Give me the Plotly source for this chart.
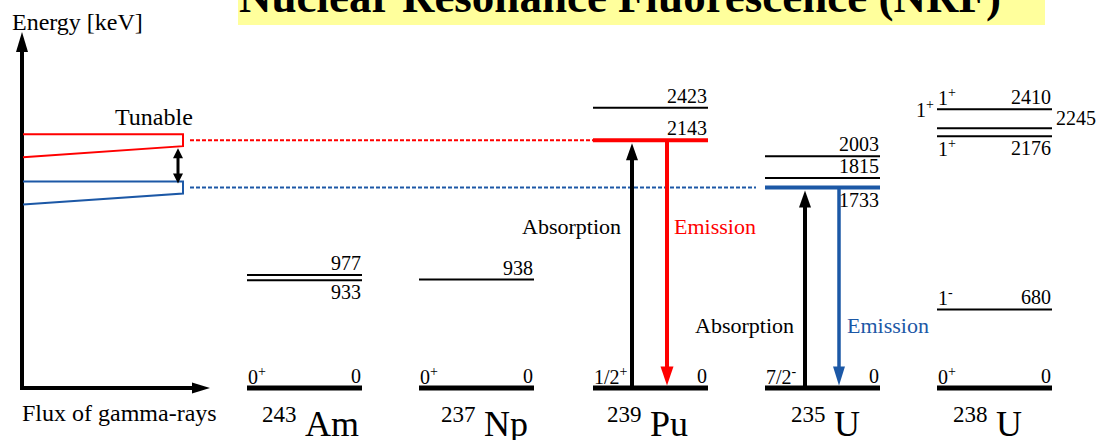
import plotly.graph_objects as go

W, H = 1102, 440

# ---------------- data ----------------
nuclide_symbols = ["Am", "Np", "Pu", "U", "U"]
mass_numbers = ["243", "237", "239", "235", "238"]
ground_spins = ["0<sup>+</sup>", "0<sup>+</sup>", "1/2<sup>+</sup>", "7/2<sup>-</sup>", "0<sup>+</sup>"]
ground_energies = [0, 0, 0, 0, 0]

am243_levels = [977, 933]
np237_levels = [938]
pu239_levels = [2423, 2143]
u235_levels = [2003, 1815, 1733]
u238_levels = [2410, 2245, 2176, 680]
u238_spins = ["1<sup>+</sup>", "1<sup>+</sup>", "1<sup>+</sup>", "1<sup>-</sup>"]

resonance_red = 2143    # 239Pu resonance (keV)
resonance_blue = 1733   # 235U resonance (keV)

title_text = "Nuclear Resonance Fluorescence (NRF)"

# ---------------- layout constants ----------------
FONT = "Liberation Serif, Times New Roman, serif"
RED = "#ff0000"
BLUE = "#1c58a6"
YELLOW = "#ffff9c"
Y0 = 388.1      # pixel row of 0 keV
K = 0.1157      # pixels per keV
COL_LEFT = [247, 419, 593, 765, 937]
COL_W = 115
LABEL_SPLIT = [301, 480, 646, 830, 992]


def e_at(p):
    return (Y0 - p) / K


def de(dp):
    return dp / K


shapes = []
anns = []


def line(x0, y0, x1, y1, color="black", width=2, dash=None):
    d = dict(type="line", xref="x", yref="y", x0=x0, y0=y0, x1=x1, y1=y1,
             line=dict(color=color, width=width), layer="above")
    if dash:
        d["line"]["dash"] = dash
    shapes.append(d)


def poly(points, color, closed=True, fill=True, width=0):
    path = "M " + " L ".join(f"{x:.3f},{y:.3f}" for x, y in points) + (" Z" if closed else "")
    shapes.append(dict(type="path", xref="x", yref="y", path=path,
                       fillcolor=color if fill else "rgba(0,0,0,0)",
                       line=dict(width=width, color=color), layer="above"))


def text_e(text, x, e, size=20, xanchor="left", yshift=0, color="black"):
    anns.append(dict(text=text, x=x, y=e, xref="x", yref="y", xanchor=xanchor,
                     yanchor="middle", yshift=yshift, showarrow=False,
                     font=dict(family=FONT, size=size, color=color)))


def text_px(text, x, py, size=22, xanchor="left", color="black"):
    anns.append(dict(text=text, x=x, y=1 - py / H, xref="x", yref="paper", xanchor=xanchor,
                     yanchor="middle", showarrow=False,
                     font=dict(family=FONT, size=size, color=color)))


def v_arrow(x, e_from, e_tip, color, lw=4, hw=6, hl=18):
    s = 1 if e_tip > e_from else -1
    e_base = e_tip - s * de(hl)
    line(x, e_from, x, e_base + s * de(1), color=color, width=lw)
    poly([(x - hw, e_base), (x, e_tip), (x + hw, e_base)], color)


# ---------------- title ----------------
shapes.append(dict(type="rect", xref="x", yref="paper", x0=238, x1=1045, y0=1 - 25 / H, y1=1.01,
                   fillcolor=YELLOW, line=dict(width=0), layer="below"))
text_px("<b>" + title_text + "</b>", 237, -3, size=45)

# ---------------- energy / flux axes ----------------
v_arrow(22, e_at(390), e_at(32), "black", lw=4, hw=6, hl=20)
# horizontal flux arrow
line(20, 0, 194, 0, color="black", width=4)
poly([(192, de(5.5)), (210, 0), (192, -de(5.5))], "black")
text_px("Energy [keV]", 10, 22, size=24)
text_px("Flux of gamma-rays", 20, 413, size=24)
text_px("Tunable", 113, 117, size=24)

# ---------------- tunable beam profiles ----------------
for e_c, col in [(resonance_red, RED), (resonance_blue, BLUE)]:
    poly([(23, e_c - de(17)), (183, e_c - de(6)), (183, e_c + de(6)), (23, e_c + de(6))],
         col, closed=False, fill=False, width=2)
# double-headed arrow between the profiles
xa = 178
top_tip = resonance_red - de(8)
bot_tip = resonance_blue + de(4)
line(xa, top_tip - de(9), xa, bot_tip + de(9), color="black", width=3)
poly([(xa - 5, top_tip - de(10)), (xa, top_tip), (xa + 5, top_tip - de(10))], "black")
poly([(xa - 5, bot_tip + de(10)), (xa, bot_tip), (xa + 5, bot_tip + de(10))], "black")

# dashed guide lines
line(190, resonance_red, COL_LEFT[2], resonance_red, color=RED, width=2, dash="4px,2px")
line(190, resonance_blue, COL_LEFT[3] - 9, resonance_blue, color=BLUE, width=2, dash="4px,2px")

# ---------------- level schemes ----------------
levels_by_col = [am243_levels, np237_levels, pu239_levels, u235_levels, u238_levels]
below_labels = {(0, 933), (3, 1733), (4, 2176)}

for i, x0 in enumerate(COL_LEFT):
    x1 = x0 + COL_W
    # ground state
    line(x0, ground_energies[i], x1, ground_energies[i], color="black", width=5)
    text_e(ground_spins[i], x0 - 1, ground_energies[i], xanchor="left", yshift=12)
    text_e(str(ground_energies[i]), x1 + 1, ground_energies[i], xanchor="right", yshift=12)
    for j, e in enumerate(levels_by_col[i]):
        color, width = "black", 2
        if i == 2 and e == resonance_red:
            color, width = RED, 4
        if i == 3 and e == resonance_blue:
            color, width = BLUE, 4
        line(x0, e, x1, e, color=color, width=width)
        ys = -12 if (i, e) in below_labels else 12
        if i == 4 and e == 2245:
            text_e(str(e), x1 + 2, e, xanchor="left", yshift=10)
            text_e(u238_spins[j], x0 - 1, e, xanchor="right", yshift=19)
            continue
        text_e(str(e), x1 + 1, e, xanchor="right", yshift=ys)
        if i == 4:
            text_e(u238_spins[j], x0 - 1, e, xanchor="left", yshift=ys)

    # nuclide names
    text_px(mass_numbers[i], LABEL_SPLIT[i] - 2, 414, size=23, xanchor="right")
    text_px(nuclide_symbols[i], LABEL_SPLIT[i] + 2, 424, size=36, xanchor="left")

# ---------------- transitions ----------------
# 239Pu
v_arrow(COL_LEFT[2] + 39, 0, resonance_red - de(3), "black", lw=4, hw=6, hl=17)
v_arrow(COL_LEFT[2] + 74, resonance_red, de(2.5), RED, lw=4, hw=6.5, hl=19)
text_px("Absorption", 623, 227, size=22, xanchor="right")
text_px("Emission", 672, 227, size=22, xanchor="left", color=RED)
# 235U
v_arrow(COL_LEFT[3] + 40, 0, resonance_blue - de(3), "black", lw=4, hw=6, hl=17)
v_arrow(COL_LEFT[3] + 74, resonance_blue, de(2.5), BLUE, lw=3.5, hw=6, hl=19)
text_px("Absorption", 796, 325, size=22, xanchor="right")
text_px("Emission", 845, 325, size=22, xanchor="left", color=BLUE)

fig = go.Figure()
fig.update_layout(
    width=W, height=H, autosize=False,
    margin=dict(l=0, r=0, t=0, b=0),
    paper_bgcolor="white", plot_bgcolor="white",
    xaxis=dict(range=[0, W], visible=False, fixedrange=True),
    yaxis=dict(range=[e_at(H), e_at(0)], visible=False, fixedrange=True),
    shapes=shapes, annotations=anns, showlegend=False,
)
fig.write_html("out.html", config={"displayModeBar": False},
               post_script="document.body.style.margin='0';document.body.style.overflow='hidden';")
